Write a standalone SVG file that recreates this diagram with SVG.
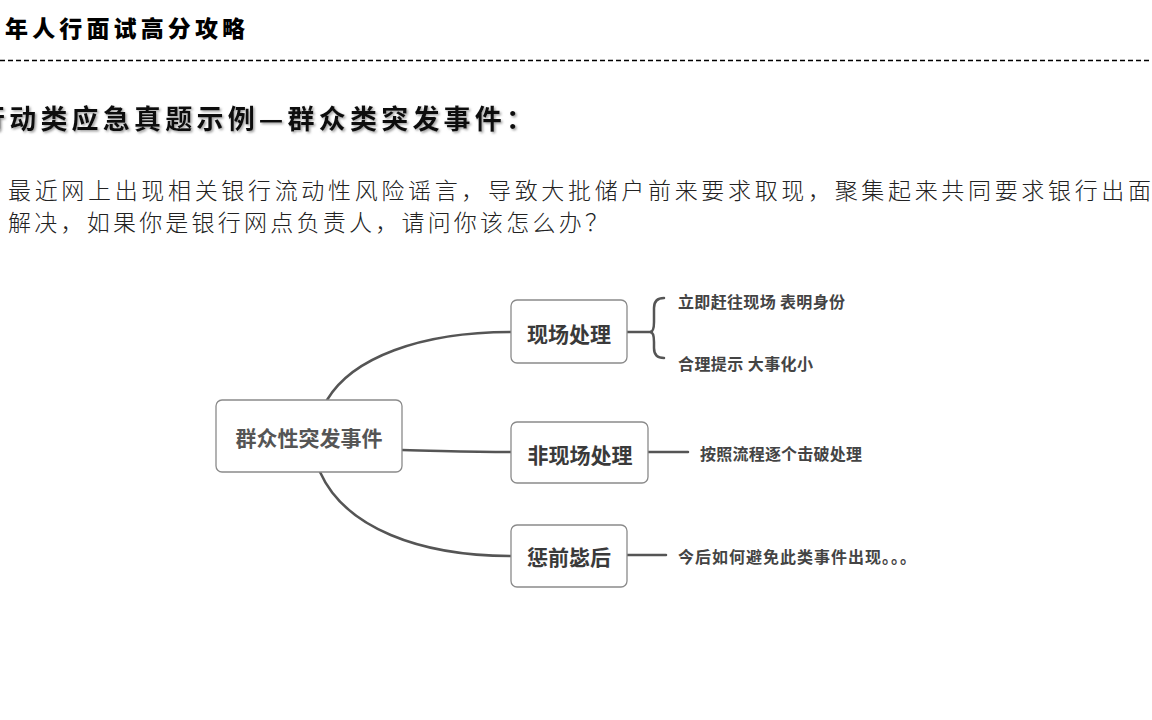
<svg xmlns="http://www.w3.org/2000/svg" width="1152" height="720" viewBox="0 0 1152 720">
<defs>
<style>
.title{font-family:"Noto Sans CJK SC",sans-serif;font-weight:900;font-size:23px;fill:#000}
.head{font-family:"Noto Sans CJK SC",sans-serif;font-weight:700;font-size:27px;fill:#111}
.para{font-family:"Noto Sans CJK SC",sans-serif;font-weight:300;font-size:23px;fill:#222}
.box{fill:#fff;stroke:#8a8a8a;stroke-width:1.3}
.ntext{font-family:"Noto Sans CJK SC",sans-serif;font-weight:700;font-size:21px;fill:#3a3a3a;text-anchor:middle;dominant-baseline:central}
.leaf{font-family:"Noto Sans CJK SC",sans-serif;font-weight:700;font-size:16px;fill:#444;dominant-baseline:central}
.conn{fill:none;stroke:#555;stroke-width:2.5;stroke-linecap:round}
</style>
<filter id="sh" x="-5%" y="-20%" width="110%" height="150%">
<feDropShadow dx="1.5" dy="1.5" stdDeviation="0.8" flood-color="#777" flood-opacity="0.7"/>
</filter>
</defs>
<rect width="1152" height="720" fill="#fff"/>

<g id="header">
<text class="title" x="5" y="37" textLength="240" lengthAdjust="spacing">年人行面试高分攻略</text>
<line x1="0" y1="60.5" x2="1152" y2="60.5" stroke="#000" stroke-width="1.3" stroke-dasharray="5,3"/>
<text class="head" x="-22" y="129" filter="url(#sh)" textLength="555" lengthAdjust="spacing">行动类应急真题示例—群众类突发事件：</text>
<text class="para" x="8" y="199" textLength="1143" lengthAdjust="spacing">最近网上出现相关银行流动性风险谣言，导致大批储户前来要求取现，聚集起来共同要求银行出面</text>
<text class="para" x="8" y="231" textLength="600" lengthAdjust="spacing">解决，如果你是银行网点负责人，请问你该怎么办？</text>
</g>

<g id="connectors">
<path class="conn" d="M327,400 C352,358 420,332 511,332"/>
<path class="conn" d="M402,450 C450,451 470,452 511,452"/>
<path class="conn" d="M320,472 C345,528 420,556 511,556"/>
<path class="conn" d="M627,332 L652,332"/>
<path class="conn" d="M664,298 Q654,298 654,308 L654,322 Q654,332 650,332 Q654,332 654,342 L654,348 Q654,358 664,358"/>
<path class="conn" d="M648,452 L688,452"/>
<path class="conn" d="M627,555 L666,555"/>
</g>

<g id="node-root">
<rect class="box" x="216" y="400" width="186" height="72" rx="6"/>
<text class="ntext" x="309" y="437" style="fill:#555">群众性突发事件</text>
</g>
<g id="node-onsite">
<rect class="box" x="511" y="300" width="116" height="63" rx="6"/>
<text class="ntext" x="569" y="333">现场处理</text>
</g>
<g id="node-offsite">
<rect class="box" x="511" y="422" width="137" height="61" rx="6"/>
<text class="ntext" x="580" y="454">非现场处理</text>
</g>
<g id="node-prevent">
<rect class="box" x="511" y="525" width="116" height="62" rx="6"/>
<text class="ntext" x="569" y="556">惩前毖后</text>
</g>
<g id="leaf-1"><text class="leaf" x="678" y="301" textLength="167" lengthAdjust="spacing">立即赶往现场 表明身份</text></g>
<g id="leaf-2"><text class="leaf" x="678" y="363" textLength="135" lengthAdjust="spacing">合理提示 大事化小</text></g>
<g id="leaf-3"><text class="leaf" x="700" y="453" textLength="162" lengthAdjust="spacing">按照流程逐个击破处理</text></g>
<g id="leaf-4"><text class="leaf" x="678" y="556" textLength="238" lengthAdjust="spacing">今后如何避免此类事件出现。。。</text></g>
</svg>
